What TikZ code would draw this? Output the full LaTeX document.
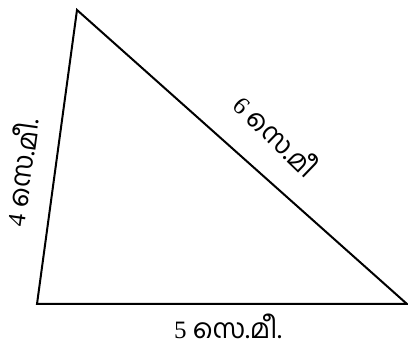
\documentclass[tikz,border=0pt]{standalone}
\usepackage{fontspec}
\setmainfont{Liberation Serif}
\newfontfamily\mlfont[Script=Malayalam,Scale=1.08]{Hind Kochi}
\begin{document}
\begin{tikzpicture}[x=1pt,y=-1pt,
  side/.style={line width=2pt, line join=miter},
  lbl/.style={font=\fontsize{25}{27}\selectfont, inner sep=0pt}]
\useasboundingbox (0,0) rectangle (408,347);
\coordinate (A) at (77,10);
\coordinate (B) at (37,304);
\coordinate (C) at (407,304);
\draw[side] (A) -- (B) -- (C) -- cycle;
\node[lbl] (bottom) at (228,326) {5 {\mlfont സെ.മീ.}};
\node[lbl, rotate=82] (left) at (20,172) {4 {\mlfont സെ.മീ.}};
\node[lbl, rotate=-44] (hyp) at (277,135) {6 {\mlfont സെ.മീ}};
\end{tikzpicture}
\end{document}
